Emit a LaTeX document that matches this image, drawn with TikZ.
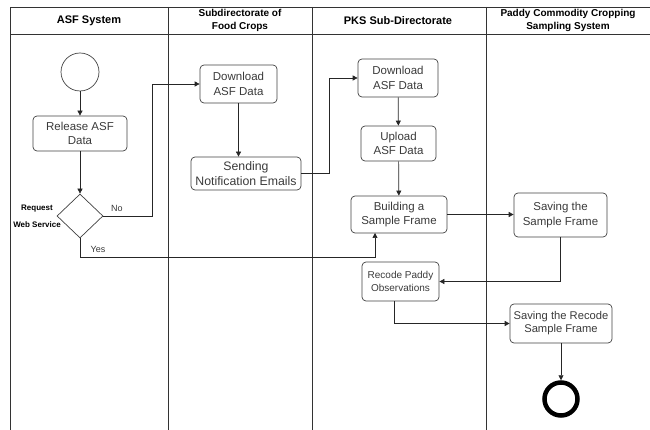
\documentclass[tikz,border=0pt]{standalone}
\usepackage{fontspec}
\setmainfont{Liberation Sans}
\usetikzlibrary{shapes.geometric,arrows.meta}
\definecolor{txt}{HTML}{3A3A3A}
\definecolor{lane}{HTML}{333333}
\begin{document}
\begin{tikzpicture}[x=1pt,y=-1pt,
  act/.style={draw=black!75, rounded corners=4pt, line width=0.7pt, text=txt, align=center, inner sep=0pt, font=\fontsize{11.5}{14.5}\selectfont},
  flow/.style={-{Triangle[width=5pt,length=5pt]}, line width=0.7pt, draw=black!85},
  hdr/.style={font=\bfseries\fontsize{11}{13}\selectfont, align=center},
  hdrs/.style={font=\bfseries\fontsize{10}{13}\selectfont, align=center},
  lanel/.style={line width=0.9pt, draw=lane}]
\useasboundingbox (0,0) rectangle (650,430);
% lanes
\draw[lanel] (650,7) -- (10,7) -- (10,430);
\draw[lanel] (10,34) -- (650,34);
\draw[lanel] (168,7) -- (168,430);
\draw[lanel] (312,7) -- (312,430);
\draw[lanel] (486,7) -- (486,430);
\node[hdr] (h1) at (89,21) {ASF System};
\node[hdrs] (h2) at (240,20.5) {Subdirectorate of\\Food Crops};
\node[hdr] (h3) at (398,21) {PKS Sub-Directorate};
\node[hdrs] (h4) at (568,20.5) {Paddy Commodity Cropping\\Sampling System};
% nodes
\node[draw=black!75, line width=0.7pt, circle, minimum size=38pt, inner sep=0pt] (start) at (80,72) {};
\node[act, minimum width=94pt, minimum height=35pt] (rel) at (80,133.5) {Release ASF\\Data};
\node[draw=black!75, line width=0.7pt, diamond, minimum width=46pt, minimum height=44pt, inner sep=0pt] (dec) at (80,216) {};
\node[font=\bfseries\fontsize{8}{9}\selectfont, anchor=center] (req) at (37,209) {Request};
\node[font=\bfseries\fontsize{8}{9}\selectfont, anchor=center] (ws) at (37,225) {Web Service};
\node[act, minimum width=77pt, minimum height=38pt] (dl1) at (238.5,84) {Download\\ASF Data};
\node[act, minimum width=110pt, minimum height=33pt, font=\fontsize{12.3}{14.5}\selectfont] (send) at (246,173.5) {Sending\\Notification Emails};
\node[act, minimum width=80pt, minimum height=38pt] (dl2) at (398,78) {Download\\ASF Data};
\node[act, minimum width=75pt, minimum height=35pt] (up) at (398.5,143.5) {Upload\\ASF Data};
\node[act, minimum width=96pt, minimum height=37pt] (bsf) at (399,214.5) {Building a\\Sample Frame};
\node[act, minimum width=93pt, minimum height=44pt] (ssf) at (560.5,215) {Saving the\\Sample Frame};
\node[act, minimum width=77pt, minimum height=39pt, font=\fontsize{10}{12.5}\selectfont] (rec) at (400.5,281.5) {Recode Paddy\\Observations};
\node[act, minimum width=102pt, minimum height=39pt, font=\fontsize{11.2}{13}\selectfont] (srf) at (561,323.5) {Saving the Recode\\Sample Frame};
\node[draw=black, line width=4.5pt, circle, minimum size=33pt, inner sep=0pt] (end) at (561,399) {};
% connectors
\draw[flow] (start) -- (rel);
\draw[flow] (rel) -- (dec.north);
\draw[flow] (dec.east) -- (152,216) |- (dl1.west);
\node[text=txt, font=\fontsize{9}{10}\selectfont] (no) at (117,208) {No};
\draw[flow] (dec.south) |- (375,257) -- (375,233);
\node[text=txt, font=\fontsize{9}{10}\selectfont] (yes) at (98,249) {Yes};
\draw[flow] (dl1.south) -- (dl1.south |- send.north);
\draw[flow] (send.east) -- (329,173.5) |- (dl2.west);
\draw[flow] (dl2) -- (up);
\draw[flow] (up) -- (bsf);
\draw[flow] (bsf.east) -- (ssf.west |- bsf.east);
\draw[flow] (ssf.south) |- (rec.east);
\draw[flow] (394,301) |- (srf.west);
\draw[flow] (srf) -- (end);
\end{tikzpicture}
\end{document}
